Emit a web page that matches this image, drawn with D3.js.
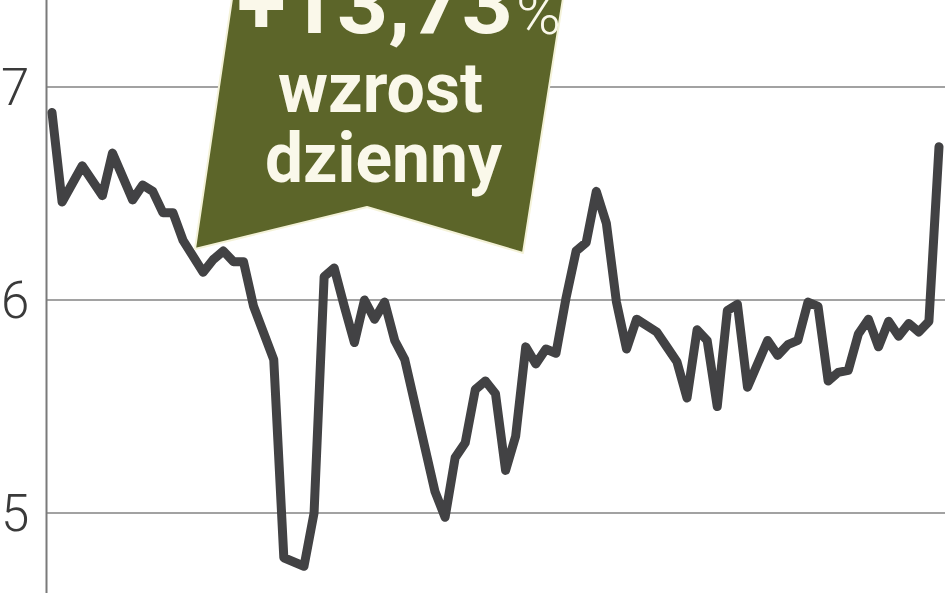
<!DOCTYPE html>
<html>
<head>
<meta charset="utf-8">
<script src="https://cdn.jsdelivr.net/npm/d3@7"></script>
<style>
  html, body { margin: 0; padding: 0; background: #fff; }
  svg { display: block; }
</style>
</head>
<body>
<div id="chart"></div>
<script>
// trading-day index and closing price
const days = [0, 1, 3, 5, 6, 8, 9, 10, 11, 12, 13, 15, 16, 17, 18, 19, 20, 22, 23, 25,
  26, 27, 28, 29, 30, 31, 32, 33, 34, 35, 38, 39, 40, 41, 42, 43, 44, 45, 46, 47,
  48, 49, 50, 51, 52, 53, 54, 55, 56, 57, 58, 60, 61, 62, 63, 64, 65, 66, 67, 68,
  69, 71, 72, 73, 74, 75, 76, 77, 78, 79, 80, 81, 82, 83, 84, 85, 86, 87, 88];
const prices = [6.88, 6.46, 6.63, 6.49, 6.69, 6.47, 6.54, 6.51, 6.41, 6.41, 6.28, 6.13, 6.19, 6.23, 6.18, 6.18, 5.97, 5.72, 4.79, 4.75,
  5.00, 6.11, 6.15, 5.97, 5.80, 6.00, 5.91, 5.99, 5.81, 5.72, 5.10, 4.98, 5.26, 5.33, 5.58, 5.62, 5.56, 5.20, 5.36, 5.78,
  5.70, 5.77, 5.75, 6.01, 6.23, 6.27, 6.51, 6.36, 5.99, 5.77, 5.91, 5.85, 5.78, 5.71, 5.54, 5.86, 5.81, 5.50, 5.95, 5.98,
  5.59, 5.81, 5.74, 5.79, 5.81, 5.99, 5.97, 5.62, 5.66, 5.67, 5.84, 5.91, 5.78, 5.90, 5.83, 5.89, 5.85, 5.90, 6.72];
const yTicks = [5, 6, 7];
const calloutLines = ['+13,73', 'wzrost', 'dzienny'];

const width = 948, height = 593;

const svg = d3.select('#chart').append('svg')
  .attr('width', width)
  .attr('height', height);

const x = d3.scaleLinear().domain([0, 88]).range([52, 939]);
const y = d3.scaleLinear().domain([5, 7]).range([513, 87]);

// grid
svg.append('g')
  .selectAll('line')
  .data(yTicks)
  .join('line')
  .attr('x1', 47)
  .attr('x2', 945)
  .attr('y1', d => y(d))
  .attr('y2', d => y(d))
  .attr('stroke', '#a2a2a2')
  .attr('stroke-width', 2);

svg.append('line')
  .attr('x1', 46.5).attr('x2', 46.5)
  .attr('y1', 0).attr('y2', height)
  .attr('stroke', '#7a7a7a')
  .attr('stroke-width', 2);

svg.append('g')
  .selectAll('text')
  .data(yTicks)
  .join('text')
  .attr('x', 1)
  .attr('y', d => y(d) + 18)
  .attr('font-family', 'Roboto, sans-serif')
  .attr('font-weight', 300)
  .attr('font-size', 51)
  .attr('fill', '#3a3a3a')
  .text(d => d);

// price line
const line = d3.line()
  .x((d, i) => x(days[i]))
  .y(d => y(d));

svg.append('path')
  .datum(prices)
  .attr('d', line)
  .attr('fill', 'none')
  .attr('stroke', '#424244')
  .attr('stroke-width', 9)
  .attr('stroke-linejoin', 'round')
  .attr('stroke-linecap', 'round');

// callout banner
const banner = [[233, -8], [195, 249], [367, 207], [523, 253], [564, -8]];
svg.append('polygon')
  .attr('points', banner.map(p => p.join(',')).join(' '))
  .attr('fill', '#5c6529')
  .attr('stroke', '#f4f2d8')
  .attr('stroke-width', 2)
  .attr('stroke-linejoin', 'round');

const txt = svg.append('g')
  .attr('font-family', 'Roboto, sans-serif')
  .attr('font-weight', 700)
  .attr('fill', '#faf8ea');

txt.append('text')
  .attr('x', 237).attr('y', 33)
  .attr('font-size', 84)
  .attr('textLength', 276)
  .attr('lengthAdjust', 'spacingAndGlyphs')
  .text(calloutLines[0]);

txt.append('text')
  .attr('x', 516).attr('y', 34)
  .attr('font-size', 60)
  .attr('font-weight', 300)
  .attr('textLength', 45)
  .attr('lengthAdjust', 'spacingAndGlyphs')
  .text('%');

txt.append('text')
  .attr('x', 278).attr('y', 112)
  .attr('font-size', 70)
  .attr('textLength', 205)
  .attr('lengthAdjust', 'spacingAndGlyphs')
  .text(calloutLines[1]);

txt.append('text')
  .attr('x', 265).attr('y', 182)
  .attr('font-size', 70)
  .attr('textLength', 237)
  .attr('lengthAdjust', 'spacingAndGlyphs')
  .text(calloutLines[2]);
</script>
</body>
</html>
